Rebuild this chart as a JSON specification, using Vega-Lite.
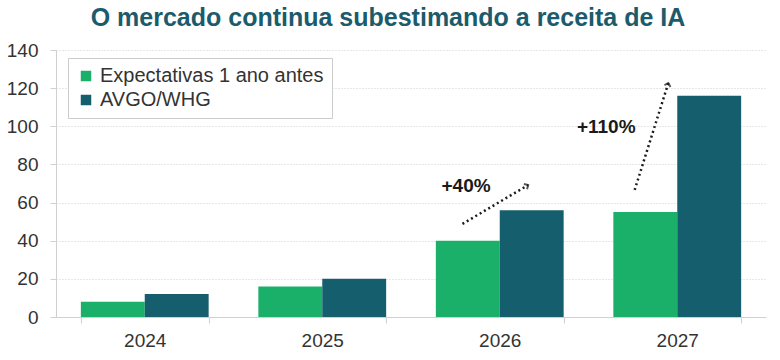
{
  "$schema": "https://vega.github.io/schema/vega-lite/v6.json",
  "autosize": {"type": "none"},
  "width": 710,
  "height": 267,
  "padding": {"left": 56, "top": 50, "right": 14, "bottom": 43},
  "background": "white",
  "title": {
    "text": "O mercado continua subestimando a receita de IA",
    "font": "Liberation Sans",
    "fontSize": 25,
    "fontWeight": "bold",
    "color": "#1B5B6B",
    "anchor": "middle",
    "dx": -23,
    "offset": 10
  },
  "config": {
    "view": {"stroke": null},
    "font": "Liberation Sans",
    "axisY": {
      "title": null, "labelOverlap": false, "labelFlush": false,
      "labelFontSize": 19, "labelColor": "#333333", "labelPadding": 12,
      "domainColor": "#d0d0d0", "tickColor": "#d0d0d0", "tickSize": 6,
      "gridColor": "#cfcfcf", "gridDash": [1, 2]
    }
  },
  "datasets": {
    "bars": [
      {"ano": "2024", "serie": "Expectativas 1 ano antes", "valor": 8},
      {"ano": "2024", "serie": "AVGO/WHG", "valor": 12},
      {"ano": "2025", "serie": "Expectativas 1 ano antes", "valor": 16},
      {"ano": "2025", "serie": "AVGO/WHG", "valor": 20},
      {"ano": "2026", "serie": "Expectativas 1 ano antes", "valor": 40},
      {"ano": "2026", "serie": "AVGO/WHG", "valor": 56},
      {"ano": "2027", "serie": "Expectativas 1 ano antes", "valor": 55},
      {"ano": "2027", "serie": "AVGO/WHG", "valor": 116}
    ],
    "arrows": [
      {"x1": 2.29, "y1": 48.8, "x2": 2.66, "y2": 69.2, "ang": 59},
      {"x1": 3.26, "y1": 66.6, "x2": 3.45, "y2": 122.7, "ang": 17}
    ],
    "labels": [
      {"x": 2.31, "y": 68.5, "txt": "+40%"},
      {"x": 3.1, "y": 99.5, "txt": "+110%"}
    ]
  },
  "layer": [
    {
      "data": {"name": "bars"},
      "mark": {"type": "bar"},
      "encoding": {
        "x": {
          "field": "ano", "type": "nominal",
          "scale": {"paddingInner": 0.28, "paddingOuter": 0.14},
          "axis": {
            "title": null, "labelAngle": 0, "labelFontSize": 19, "labelColor": "#333333",
            "labelPadding": 8, "domainColor": "#d0d0d0", "tickColor": "#d0d0d0",
            "tickBand": "extent", "tickSize": 6, "grid": false
          }
        },
        "xOffset": {"field": "serie", "type": "nominal", "sort": ["Expectativas 1 ano antes", "AVGO/WHG"]},
        "y": {
          "field": "valor", "type": "quantitative",
          "scale": {"domain": [0, 140], "nice": false},
          "axis": {"title": null, "values": [0, 20, 40, 60, 80, 100, 120, 140]}
        },
        "color": {
          "field": "serie", "type": "nominal",
          "scale": {"domain": ["Expectativas 1 ano antes", "AVGO/WHG"], "range": ["#1AB06A", "#155E6E"]},
          "legend": {
            "title": null, "orient": "none", "legendX": 12, "legendY": 8,
            "direction": "vertical",
            "strokeColor": "#cccccc", "padding": 8, "fillColor": "white",
            "symbolType": "square", "symbolSize": 110, "symbolStrokeWidth": 0,
            "labelFontSize": 20, "labelColor": "#333333", "labelOffset": 4,
            "rowPadding": 4, "labelLimit": 400
          }
        }
      }
    },
    {
      "data": {"name": "arrows"},
      "mark": {"type": "rule", "color": "#1a1a1a", "strokeWidth": 2.5, "strokeDash": [2, 3]},
      "encoding": {
        "x": {"field": "x1", "type": "quantitative", "scale": {"domain": [0, 4], "nice": false, "zero": false}, "axis": null},
        "y": {"field": "y1", "type": "quantitative", "axis": {"title": null, "values": [0, 20, 40, 60, 80, 100, 120, 140]}},
        "x2": {"field": "x2"},
        "y2": {"field": "y2"}
      }
    },
    {
      "data": {"name": "arrows"},
      "mark": {"type": "point", "shape": "M-0.6,0.6L0,0L0.6,0.6", "filled": false, "color": "#1a1a1a", "strokeWidth": 2, "size": 110},
      "encoding": {
        "x": {"field": "x2", "type": "quantitative", "scale": {"domain": [0, 4], "nice": false, "zero": false}, "axis": null},
        "y": {"field": "y2", "type": "quantitative", "axis": {"title": null, "values": [0, 20, 40, 60, 80, 100, 120, 140]}},
        "angle": {"field": "ang", "type": "quantitative", "scale": null}
      }
    },
    {
      "data": {"name": "labels"},
      "mark": {"type": "text", "fontSize": 19, "fontWeight": "bold", "color": "#1a1a1a", "align": "center", "baseline": "middle"},
      "encoding": {
        "x": {"field": "x", "type": "quantitative", "scale": {"domain": [0, 4], "nice": false, "zero": false}, "axis": null},
        "y": {"field": "y", "type": "quantitative", "axis": {"title": null, "values": [0, 20, 40, 60, 80, 100, 120, 140]}},
        "text": {"field": "txt"}
      }
    }
  ],
  "resolve": {"scale": {"x": "independent"}}
}
